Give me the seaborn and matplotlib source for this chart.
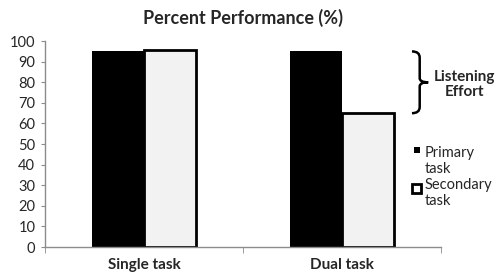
import numpy as np
import pandas as pd
import matplotlib
matplotlib.use("Agg")
import matplotlib.pyplot as plt
from matplotlib.patches import Rectangle, PathPatch
from matplotlib.path import Path
import seaborn as sns

# Data
conditions = ["Single task", "Dual task"]
tasks = ["Primary task", "Secondary task"]
legend_labels = ["Primary\ntask", "Secondary\ntask"]
primary = [95, 95]
secondary = [95.5, 65]
yticks = list(range(0, 101, 10))

df = pd.DataFrame({
    "condition": conditions * 2,
    "task": [tasks[0]] * 2 + [tasks[1]] * 2,
    "value": primary + secondary,
})

sns.set_style("white")
plt.rcParams["font.family"] = ["Lato", "DejaVu Sans"]

fig = plt.figure(figsize=(4.97, 2.76), dpi=100)
ax = fig.add_axes([0.0905, 0.105, 0.797, 0.746])

sns.barplot(data=df, x="condition", y="value", hue="task", order=conditions,
            hue_order=tasks, palette=["black", "#f2f2f2"], width=0.525, gap=0,
            saturation=1, legend=False, ax=ax)

# edge on the secondary bars only
for p in ax.patches[len(conditions):]:
    p.set_edgecolor("black")
    p.set_linewidth(2)
for p in ax.patches[:len(conditions)]:
    p.set_linewidth(0)

ax.set_xlim(-0.5, 1.5)
ax.set_ylim(0, 100)
ax.set_yticks(yticks)
ax.set_xlabel("")
ax.set_ylabel("")
ax.set_title("Percent Performance (%)", fontsize=13, fontweight="bold", pad=12)

sns.despine(ax=ax)
for s in ["left", "bottom"]:
    ax.spines[s].set_color("#8c8c8c")
    ax.spines[s].set_linewidth(1)
ax.tick_params(axis="y", direction="out", length=3, color="#8c8c8c",
               labelsize=10.5, left=True, pad=4)
ax.set_xticks(range(len(conditions)))
ax.set_xticklabels(conditions, fontsize=11, fontweight="bold")
ax.tick_params(axis="x", which="major", length=0, pad=8)
ax.set_xticks([-0.5, 0.5, 1.5], minor=True)
ax.tick_params(axis="x", which="minor", direction="out", length=4,
               color="#8c8c8c", bottom=True)

# curly brace marking the drop in secondary task performance
top, bot = primary[1], secondary[1]
mid = (top + bot) / 2
x0, xs, x1 = 1.353, 1.392, 1.435
verts = [(x0, top), (xs, top), (xs, top - 3),
         (xs, mid + 2), (xs, mid), (x1, mid),
         (xs, mid), (xs, mid - 2),
         (xs, bot + 3), (xs, bot), (x0, bot)]
codes = [Path.MOVETO, Path.CURVE3, Path.CURVE3,
         Path.LINETO, Path.CURVE3, Path.CURVE3,
         Path.CURVE3, Path.CURVE3,
         Path.LINETO, Path.CURVE3, Path.CURVE3]
ax.add_patch(PathPatch(Path(verts, codes), fill=False, lw=1.8,
                       edgecolor="black", clip_on=False))
ax.text(1.616, 79, "Listening\nEffort", ha="center", va="center",
        fontsize=11, fontweight="bold", clip_on=False, linespacing=1.15)

# legend drawn by hand so the markers sit on the first text line
W, H = 497, 276
fig.add_artist(Rectangle((414 / W, 1 - 153 / H), 6 / W, 6 / H,
                         transform=fig.transFigure, facecolor="black", lw=0))
fig.add_artist(Rectangle((411.5 / W, 1 - 193 / H), 9.5 / W, 9.5 / H,
                         transform=fig.transFigure, facecolor="white",
                         edgecolor="black", lw=2))
fig.text(425 / W, 1 - 146 / H, legend_labels[0], ha="left", va="top",
         fontsize=10.5, linespacing=1.15)
fig.text(425 / W, 1 - 178 / H, legend_labels[1], ha="left", va="top",
         fontsize=10.5, linespacing=1.15)

fig.savefig("out.png", dpi=100)
